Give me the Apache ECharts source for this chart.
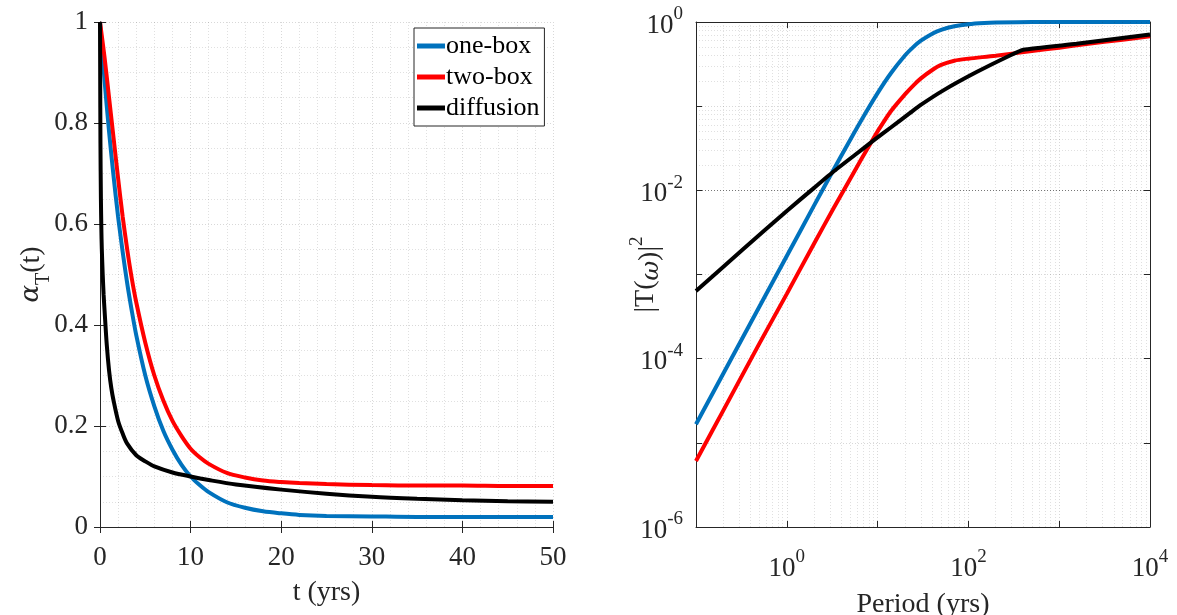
<!DOCTYPE html>
<html><head><meta charset="utf-8">
<script src="https://cdn.jsdelivr.net/npm/echarts@6/dist/echarts.min.js"></script>
<style>html,body{margin:0;padding:0;background:#fff}#c{width:1177px;height:615px}</style>
</head><body><div id="c"></div>
<script>
// ---------- data ----------
const seriesNames = ['one-box', 'two-box', 'diffusion'];
const seriesColors = ['#0072BD', '#FF0000', '#000000'];

// left panel: alpha_T(t)
const tOneBox = [0,0.5,1,1.5,2,2.5,3,3.5,4,5,6,7,8,9,10,11,12,14,16,18,20,22,25,30,35,40,45,50];
const aOneBox = [1.0,0.885,0.783,0.694,0.614,0.545,0.483,0.429,0.38,0.30,0.239,0.19,0.153,0.123,0.10,0.083,0.069,0.049,0.038,0.031,0.027,0.024,0.022,0.021,0.02,0.02,0.02,0.02];
const tTwoBox = [0,0.5,1,1.5,2,2.5,3,3.5,4,5,6,7,8,9,10,11,12,14,16,18,20,22,25,30,35,40,45,50];
const aTwoBox = [1.0,0.93,0.85,0.77,0.69,0.615,0.55,0.493,0.445,0.365,0.30,0.25,0.21,0.18,0.155,0.138,0.125,0.107,0.098,0.092,0.089,0.087,0.085,0.083,0.082,0.082,0.081,0.081];
const tDiff = [0,0.02,0.05,0.1,0.15,0.2,0.3,0.4,0.5,0.75,1,1.25,1.5,2,2.5,3,4,5,6,8,10,12,15,20,25,30,35,40,45,50];
const aDiff = [1,0.9,0.76,0.65,0.59,0.55,0.5,0.46,0.43,0.36,0.31,0.275,0.25,0.21,0.185,0.165,0.142,0.13,0.12,0.108,0.10,0.093,0.084,0.074,0.066,0.060,0.056,0.053,0.051,0.050];

// right panel: |T(omega)|^2 vs period
const pOneBox = [0.1,0.2,0.5,1,2,3,5,7,10,14,20,25,30,40,50,70,100,150,200,500,10000];
const sOneBox = [1.66e-5,6.66e-5,4.16e-4,1.66e-3,6.62e-3,1.48e-2,4.0e-2,7.55e-2,0.143,0.246,0.40,0.51,0.60,0.727,0.806,0.891,0.943,0.974,0.985,0.998,1.0];
const pTwoBox = [0.1,0.2,0.5,1,2,3.25,6.31,8.61,10,14,20,25,30,40,50,70,100,200,500,1000,2000,5000,10000];
const sTwoBox = [6.08e-6,2.43e-5,1.52e-4,5.89e-4,2.34e-3,6.03e-3,0.0214,0.038,0.0501,0.0871,0.138,0.178,0.214,0.269,0.309,0.347,0.367,0.398,0.452,0.495,0.547,0.617,0.679];
const pDiff = [0.1,0.316,1,2,3.25,5.62,8.97,14.1,22.8,29.3,53,123,287,403,1549,10000];
const sDiff = [6.38e-4,1.91e-3,5.69e-3,1.07e-2,1.66e-2,2.63e-2,3.89e-2,5.62e-2,8.32e-2,0.102,0.154,0.254,0.40,0.468,0.551,0.711];

// axis ticks
const leftXTicks = [0, 50, 10];      // min, max, interval
const leftYTicks = [0, 1, 0.2];
const rightXRange = [0.1, 10000];
const rightYRange = [1e-6, 1];
const minorMultipliers = [2,3,4,5,6,7,8,9];

// ---------- helpers ----------
const FONT = '"Liberation Serif", "DejaVu Serif", serif';
const TXT = '#262626';
const zip = (a, b) => a.map((x, i) => [x, b[i]]);
function minorPositions(lo, hi) {
  const out = [];
  for (let e = Math.round(Math.log10(lo)); e < Math.round(Math.log10(hi)); e++) {
    minorMultipliers.forEach(m => out.push(m * Math.pow(10, e)));
  }
  return out;
}
const supLabel = v => {
  const e = Math.round(Math.log10(v));
  if (e % 2 !== 0) return '';
  return '{b|10}{s|' + e + '}';
};
const supRich = {
  b: { fontFamily: FONT, fontSize: 27, color: TXT, verticalAlign: 'bottom', lineHeight: 34 },
  s: { fontFamily: FONT, fontSize: 19, color: TXT, verticalAlign: 'top', lineHeight: 34 }
};
const gridLineStyle = { color: '#262626', opacity: 0.18, type: [1, 2], width: 1 };
const minorLineStyle = { color: '#262626', opacity: 0.14, type: [1, 2], width: 1 };
const axisLineStyle = { show: true, lineStyle: { color: TXT, width: 1 } };
const tickIn = { show: true, inside: true, length: 6, lineStyle: { color: TXT } };
const curve = (name, idx, xi, data, smooth) => ({
  name, type: 'line', xAxisIndex: xi, yAxisIndex: xi, data,
  showSymbol: false, smooth, z: 3 + idx,
  lineStyle: { width: 4, color: seriesColors[idx] }, itemStyle: { color: seriesColors[idx] }
});

const chart = echarts.init(document.getElementById('c'));

const option = {
  animation: false,
  backgroundColor: '#fff',
  grid: [
    { left: 100, top: 22, width: 453, height: 505, outerBoundsMode: 'none' },
    { left: 696, top: 22, width: 454, height: 505, outerBoundsMode: 'none' }
  ],
  legend: {
    data: seriesNames,
    orient: 'vertical',
    left: 414, top: 28,
    icon: 'rect', itemWidth: 28, itemHeight: 5, itemGap: 5,
    backgroundColor: '#fff', borderColor: TXT, borderWidth: 1, borderRadius: 0,
    padding: [5, 5, 5, 3],
    textStyle: { fontFamily: FONT, fontSize: 26, color: '#000', padding: [0, 0, 0, -4] }
  },
  xAxis: [
    { gridIndex: 0, type: 'value', min: leftXTicks[0], max: leftXTicks[1], interval: leftXTicks[2],
      name: 't (yrs)', nameLocation: 'middle', nameGap: 52, nameMoveOverlap: false,
      nameTextStyle: { fontFamily: FONT, fontSize: 28, color: TXT },
      axisLine: axisLineStyle, axisTick: tickIn,
      axisLabel: { fontFamily: FONT, fontSize: 27, color: TXT, margin: 17 },
      splitLine: { show: true, lineStyle: gridLineStyle },
      minorTick: { show: false, splitNumber: 5 },
      minorSplitLine: { show: true, lineStyle: minorLineStyle } },
    { gridIndex: 0, type: 'value', position: 'top', min: leftXTicks[0], max: leftXTicks[1], interval: leftXTicks[2],
      axisLine: axisLineStyle, axisTick: tickIn, axisLabel: { show: false }, splitLine: { show: false } },
    { gridIndex: 1, type: 'log', logBase: 10, min: rightXRange[0], max: rightXRange[1],
      name: 'Period (yrs)', nameLocation: 'middle', nameGap: 64, nameMoveOverlap: false,
      nameTextStyle: { fontFamily: FONT, fontSize: 28, color: TXT },
      axisLine: axisLineStyle, axisTick: tickIn,
      axisLabel: { formatter: supLabel, rich: supRich, margin: 21 },
      splitLine: { show: true, lineStyle: gridLineStyle } },
    { gridIndex: 1, type: 'log', logBase: 10, position: 'top', min: rightXRange[0], max: rightXRange[1],
      axisLine: axisLineStyle, axisTick: tickIn, axisLabel: { show: false }, splitLine: { show: false } }
  ],
  yAxis: [
    { gridIndex: 0, type: 'value', min: leftYTicks[0], max: leftYTicks[1], interval: leftYTicks[2],
      name: '{a|α}{t|T}{n|(t)}', nameLocation: 'middle', nameGap: 46, nameRotate: 90, nameMoveOverlap: false,
      nameTextStyle: { rich: {
        a: { fontFamily: 'DejaVu Serif', fontStyle: 'italic', fontSize: 26, color: TXT, verticalAlign: 'top', lineHeight: 36 },
        t: { fontFamily: FONT, fontSize: 20, color: TXT, verticalAlign: 'bottom', lineHeight: 36 },
        n: { fontFamily: FONT, fontSize: 28, color: TXT, verticalAlign: 'top', lineHeight: 36 } } },
      axisLine: axisLineStyle, axisTick: tickIn,
      axisLabel: { fontFamily: FONT, fontSize: 27, color: TXT, margin: 12 },
      splitLine: { show: true, lineStyle: gridLineStyle },
      minorTick: { show: false, splitNumber: 4 },
      minorSplitLine: { show: true, lineStyle: minorLineStyle } },
    { gridIndex: 0, type: 'value', position: 'right', min: leftYTicks[0], max: leftYTicks[1], interval: leftYTicks[2],
      axisLine: axisLineStyle, axisTick: tickIn, axisLabel: { show: false }, splitLine: { show: false } },
    { gridIndex: 1, type: 'log', logBase: 10, min: rightYRange[0], max: rightYRange[1],
      name: '|T({w|ω}{n|)|}{s|2}', nameLocation: 'middle', nameGap: 32, nameRotate: 90, nameMoveOverlap: false,
      nameTextStyle: { fontFamily: FONT, fontSize: 28, color: TXT, rich: {
        w: { fontFamily: 'DejaVu Serif', fontStyle: 'italic', fontSize: 24, color: TXT, verticalAlign: 'bottom', lineHeight: 36 },
        n: { fontFamily: FONT, fontSize: 28, color: TXT, verticalAlign: 'bottom', lineHeight: 36 },
        s: { fontFamily: FONT, fontSize: 19, color: TXT, verticalAlign: 'top', lineHeight: 36 } } },
      axisLine: axisLineStyle, axisTick: tickIn,
      axisLabel: { formatter: supLabel, rich: supRich, margin: 13 },
      splitLine: { show: true, lineStyle: gridLineStyle } },
    { gridIndex: 1, type: 'log', logBase: 10, position: 'right', min: rightYRange[0], max: rightYRange[1],
      axisLine: axisLineStyle, axisTick: tickIn, axisLabel: { show: false }, splitLine: { show: false } }
  ],
  series: [
    // minor grid for log panel
    { type: 'line', xAxisIndex: 2, yAxisIndex: 2, data: [], z: 1, silent: true,
      markLine: { silent: true, symbol: 'none', label: { show: false }, lineStyle: minorLineStyle, animation: false,
        data: minorPositions(rightXRange[0], rightXRange[1]).map(v => ({ xAxis: v }))
          .concat(minorPositions(rightYRange[0], rightYRange[1]).map(v => ({ yAxis: v }))) } },
    curve(seriesNames[0], 0, 0, zip(tOneBox, aOneBox), 0.3),
    curve(seriesNames[1], 1, 0, zip(tTwoBox, aTwoBox), 0.3),
    curve(seriesNames[2], 2, 0, zip(tDiff, aDiff), 0.3),
    curve(seriesNames[0], 0, 2, zip(pOneBox, sOneBox), 0.3),
    curve(seriesNames[1], 1, 2, zip(pTwoBox, sTwoBox), 0.3),
    curve(seriesNames[2], 2, 2, zip(pDiff, sDiff), 0.15)
  ]
};
chart.setOption(option);
</script></body></html>
